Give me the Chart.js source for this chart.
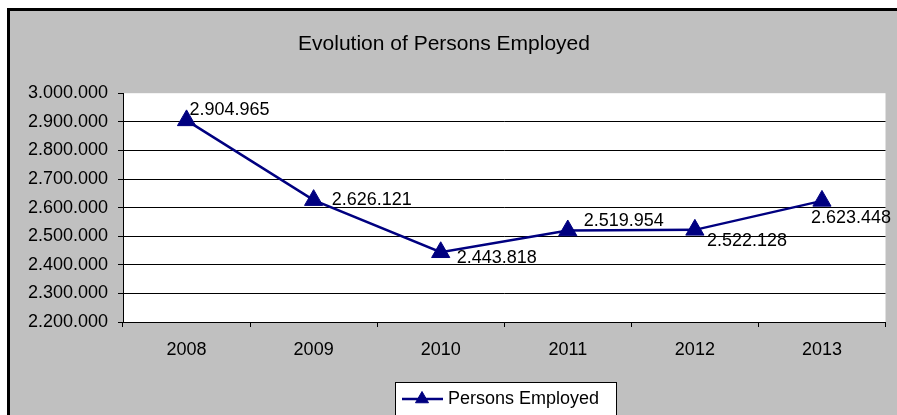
<!DOCTYPE html>
<html>
<head>
<meta charset="utf-8">
<script src="https://cdn.jsdelivr.net/npm/chart.js@4.4.0/dist/chart.umd.min.js"></script>
<style>
html, body { margin: 0; padding: 0; background: #fff; }
#wrap { width: 897px; height: 415px; }
</style>
</head>
<body>
<div id="wrap"><canvas id="myChart" width="897" height="415"></canvas></div>
<script>
// chart values
const years = ['2008', '2009', '2010', '2011', '2012', '2013'];
const persons = [2904965, 2626121, 2443818, 2519954, 2522128, 2623448];
const yTicks = [2200000, 2300000, 2400000, 2500000, 2600000, 2700000, 2800000, 2900000, 3000000];

// where each value label sits relative to its point (dx, dy)
const labelOffsets = [[3, -10], [18, 0], [16, 6], [16, -9], [12, 11], [-11, 17]];

const NAVY = '#000080';
Chart.defaults.font.family = "'Liberation Sans', Arial, sans-serif";
Chart.defaults.color = '#000';

function fmt(v){
    return String(v).replace(/\B(?=(\d{3})+(?!\d))/g, '.');
}

// gray frame + white plot area
const backdrop = {
    id: 'backdrop',
    beforeDraw(chart){
        const {ctx, chartArea: a} = chart;
        ctx.save();
        ctx.fillStyle = '#fff';
        ctx.fillRect(0, 0, chart.width, chart.height);
        ctx.fillStyle = '#c0c0c0';
        ctx.fillRect(8, 9, chart.width, chart.height);
        ctx.strokeStyle = '#000';
        ctx.lineWidth = 3;
        ctx.strokeRect(8.5, 9.5, chart.width + 10, chart.height + 10);
        ctx.fillStyle = '#fff';
        ctx.fillRect(a.left, a.top, a.right - a.left, a.bottom - a.top);
        ctx.restore();
    }
};

// value labels next to the markers
const valueLabels = {
    id: 'valueLabels',
    afterDatasetsDraw(chart){
        const ctx = chart.ctx;
        const meta = chart.getDatasetMeta(0);
        ctx.save();
        ctx.font = "18px 'Liberation Sans', Arial, sans-serif";
        ctx.fillStyle = '#000';
        ctx.textAlign = 'left';
        ctx.textBaseline = 'middle';
        meta.data.forEach((pt, i) => {
            const off = labelOffsets[i];
            ctx.fillText(fmt(persons[i]), pt.x + off[0], pt.y + off[1]);
        });
        ctx.restore();
    }
};

// boxed legend at the bottom
const legendBox = {
    id: 'legendBox',
    afterDraw(chart){
        const ctx = chart.ctx;
        const ds = chart.data.datasets[0];
        ctx.save();
        ctx.fillStyle = '#fff';
        ctx.fillRect(395.5, 382.5, 221, 40);
        ctx.strokeStyle = '#000';
        ctx.lineWidth = 1;
        ctx.strokeRect(395.5, 382.5, 221, 40);

        ctx.strokeStyle = ds.borderColor;
        ctx.lineWidth = 2.5;
        ctx.beginPath();
        ctx.moveTo(402, 399);
        ctx.lineTo(443, 399);
        ctx.stroke();

        ctx.fillStyle = ds.pointBackgroundColor;
        ctx.strokeStyle = ds.pointBorderColor;
        ctx.lineWidth = 1;
        Chart.helpers.drawPoint(ctx, {pointStyle: 'triangle', radius: 7.5, borderWidth: 1, rotation: 0}, 422, 399);

        ctx.fillStyle = '#000';
        ctx.font = "18px 'Liberation Sans', Arial, sans-serif";
        ctx.textBaseline = 'middle';
        ctx.fillText(ds.label, 448, 399);
        ctx.restore();
    }
};

new Chart(document.getElementById('myChart'), {
    type: 'line',
    data: {
        labels: years,
        datasets: [{
            label: 'Persons Employed',
            data: persons,
            borderColor: NAVY,
            borderWidth: 2.5,
            pointStyle: 'triangle',
            pointRadius: 10.5,
            pointBackgroundColor: NAVY,
            pointBorderColor: NAVY,
            pointBorderWidth: 1,
            tension: 0
        }]
    },
    options: {
        responsive: false,
        animation: false,
        devicePixelRatio: 1,
        layout: {
            padding: {left: 0, top: 0, right: 9, bottom: 0}
        },
        plugins: {
            legend: {display: false},
            tooltip: {enabled: false},
            title: {
                display: true,
                text: 'Evolution of Persons Employed',
                color: '#000',
                font: {size: 21, weight: 'normal'},
                padding: {top: 32, bottom: 36}
            }
        },
        scales: {
            x: {
                offset: true,
                grid: {
                    offset: true,
                    drawOnChartArea: false,
                    drawTicks: true,
                    tickLength: 5,
                    tickColor: '#000'
                },
                border: {display: true, color: '#000', width: 1},
                ticks: {font: {size: 18}, padding: 12, color: '#000'},
                afterFit(scale){ scale.height = 93; }
            },
            y: {
                min: yTicks[0],
                max: yTicks[yTicks.length - 1],
                grid: {
                    color: (c) => (c.tick && c.tick.value === yTicks[yTicks.length - 1]) ? 'rgba(0,0,0,0)' : '#000',
                    tickColor: '#000',
                    tickLength: 5,
                    lineWidth: 1
                },
                border: {display: true, color: '#000', width: 1},
                ticks: {
                    stepSize: yTicks[1] - yTicks[0],
                    font: {size: 18},
                    padding: 10,
                    color: '#000',
                    callback: (v) => fmt(v)
                },
                afterFit(scale){ scale.width = 123; }
            }
        }
    },
    plugins: [backdrop, valueLabels, legendBox]
});
</script>
</body>
</html>
